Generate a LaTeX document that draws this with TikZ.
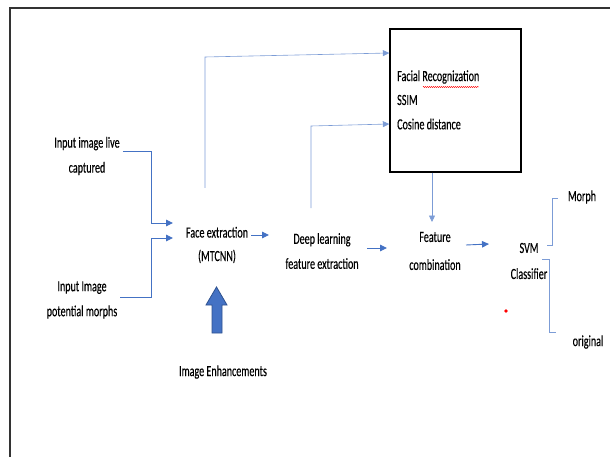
\documentclass[tikz,border=0pt]{standalone}
\usepackage{fontspec}
\setmainfont[FakeStretch=0.65,FakeBold=0.3]{Carlito}
\usetikzlibrary{arrows.meta,decorations.pathmorphing}
\definecolor{cblue}{HTML}{4472C4}
\definecolor{cdark}{HTML}{2F528F}
\begin{document}
\begin{tikzpicture}[x=1pt,y=-1pt,
  lbl/.style={inner sep=0pt, align=center, font=\fontsize{15.5}{25}\selectfont},
  conn/.style={draw=cblue, line width=0.9pt},
  thinconn/.style={draw=cblue!70, line width=0.6pt},
  arr/.style={conn, -{Triangle[length=7pt,width=6.5pt]}},
  thinarr/.style={thinconn, -{Triangle[length=6.5pt,width=6pt]}, },
]
\useasboundingbox (0,0) rectangle (610,457);
% outer frame (only top and left edges visible)
\draw[line width=1.6pt, black!80] (10,457) -- (10,8) -- (610,8);

% main box
\node[draw, line width=1.4pt, minimum width=131, minimum height=143, inner sep=0pt] (box) at (455.5,100.5) {};
\node[lbl, anchor=west] (fr) at (397,77) {Facial Recognization};
\node[lbl, anchor=west] (ssim) at (397,100) {SSIM};
\node[lbl, anchor=west] (cos) at (397,124) {Cosine distance};
\draw[red, line width=0.4pt, decorate, decoration={snake, amplitude=0.6pt, segment length=2pt}] (423,87) -- (479,87);

% text nodes
\node[lbl] (in1) at (87,156) {Input image live\\captured};
\node[lbl] (in2) at (82,300) {Input Image\\potential morphs};
\node[lbl, font=\fontsize{15.5}{23.5}\selectfont] (fe) at (217,245) {Face extraction\\(MTCNN)};
\node[lbl] (enh) at (223,372) {Image Enhancements};
\node[lbl] (dl) at (322,251) {Deep learning\\feature extraction};
\node[lbl, font=\fontsize{15.5}{28}\selectfont] (fc) at (435,251) {Feature\\combination};
\node[lbl, font=\fontsize{15.5}{26}\selectfont] (svm) at (529,261) {SVM\\Classifier};
\node[lbl] (morph) at (582,197) {Morph};
\node[lbl] (orig) at (588,342) {original};

% junction coordinates
\coordinate (j1) at (151,151);
\coordinate (j2) at (151,297);
\coordinate (fein1) at (173,223);
\coordinate (fein2) at (173,238);
\coordinate (up1) at (205,188);
\coordinate (up2) at (311,208);

% connectors
\draw[arr] (in1.east |- j1) ++(3,0) -- (j1) |- (fein1);
\draw[arr] (in2.east |- j2) ++(3,0) -- (j2) |- (fein2);
\draw[arr] (fe.east |- 0,235) ++(3,0) -- (269,235);
\draw[arr] (367,248) -- (387,248);
\draw[arr] (466,245) -- (489,244);
\draw[thinarr] (up1) -- (205,57) -- (box.west |- 0,53);
\draw[thinarr] (up2) -- (311,126) -- (box.west |- 0,124);
\draw[thinarr] (box.south -| 432,0) -- (432,222);

% SVM brackets
\draw[thinconn] (547,245) -- (552,245) -- (552,198) -- (558,198);
\draw[thinconn] (542,259) -- (549,259) -- (549,332) -- (556,332);

% block arrow (image enhancements)
\draw[fill=cblue, draw=cdark, line width=0.8pt]
  (212,333) -- (212,305) -- (206,305) -- (216.5,287) -- (227,305) -- (222,305) -- (222,333) -- cycle;

% red dot
\fill[red] (506,311) circle (1.8);
\end{tikzpicture}
\end{document}
